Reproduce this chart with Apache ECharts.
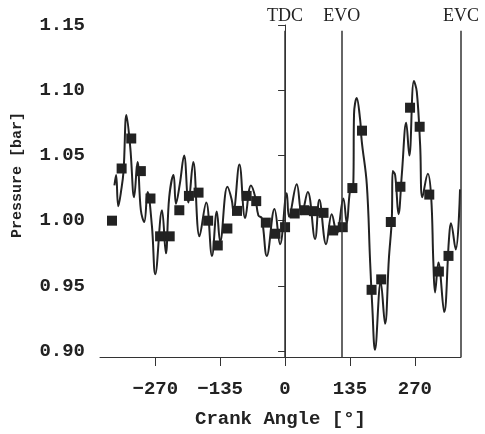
<!DOCTYPE html>
<html>
<head>
<meta charset="utf-8">
<script src="https://cdn.jsdelivr.net/npm/echarts@6/dist/echarts.min.js"></script>
<style>
html, body { margin: 0; padding: 0; background: #fff; }
#chart { width: 485px; height: 434px; }
</style>
</head>
<body>
<div id="chart"></div>
<script>
// pressure trace (continuous curve)
var curveAngle = [-355, -351.5, -347, -341, -336, -330, -322, -314, -307, -300, -293, -286, -277, -270,
    -256, -248, -241, -232, -227, -219, -210, -201, -191, -178, -164, -152, -142, -135, -120, -111,
    -107.5, -95, -83, -71, -62, -55.5, -48.5, -38, -22, -10.4, 3.5, 8.3, 24.3, 34.7, 47.2, 62.4,
    71.3, 85.3, 97.1, 107.5, 121.3, 128.3, 135.2, 142, 143.5, 149, 156, 159.5, 170, 177, 181.6,
    187, 199, 208, 216, 222, 224, 229, 236, 243, 252, 258.5, 268, 274, 281, 285.6, 297, 304,
    308.5, 312, 319, 331, 341, 345, 355, 364];
var curvePressure = [1.027, 1.035, 1.011, 1.023, 1.038, 1.081, 1.056, 1.018, 1.045, 1.008, 0.999, 1.022, 0.996, 0.959,
    1.008, 0.975, 1.018, 1.035, 1.013, 1.028, 1.050, 1.014, 1.045, 0.988, 1.014, 0.973, 1.007, 0.984, 1.026, 1.016,
    1.007, 1.043, 1.002, 1.027, 1.018, 1.004, 1.002, 0.973, 1.009, 0.982, 1.021, 1.003, 1.028, 1.005, 1.022, 0.986,
    1.016, 0.982, 1.005, 0.990, 1.017, 0.998, 1.023, 1.028, 1.082, 1.094, 1.078, 1.061, 1.028, 0.968, 0.933,
    0.901, 0.953, 0.921, 0.971, 1.001, 1.038, 1.035, 1.005, 1.036, 1.075, 1.050, 1.107, 1.099, 1.058, 1.018, 1.036, 1.018,
    0.968, 0.945, 0.968, 0.930, 0.986, 0.998, 0.978, 1.024];

// square markers every 20 deg
var markerAngle = [-360, -340, -320, -300, -280, -260, -240, -220, -200, -180, -160, -140, -120, -100, -80, -60, -40, -20,
    0, 20, 40, 60, 80, 100, 120, 140, 160, 180, 200, 220, 240, 260, 280, 300, 320, 340];
var markerPressure = [1.000, 1.040, 1.063, 1.038, 1.017, 0.988, 0.988, 1.008, 1.019, 1.0215, 1.000, 0.981, 0.994, 1.0075, 1.019, 1.015, 0.9985, 0.990,
    0.995, 1.0055, 1.008, 1.0073, 1.006, 0.9925, 0.995, 1.025, 1.069, 0.947, 0.955, 0.999, 1.026, 1.0866, 1.072, 1.020, 0.961, 0.973];

var eventNames = ['TDC', 'EVO', 'EVC'];
var eventAngles = [0, 118, 366];

var xTicks = [-270, -135, 0, 135, 270];
var yTicks = [0.90, 0.95, 1.00, 1.05, 1.10, 1.15];

var curveData = [];
for (var i = 0; i < curveAngle.length; i++) {
    curveData.push([curveAngle[i], curvePressure[i]]);
}
var markerData = [];
for (var i = 0; i < markerAngle.length; i++) {
    markerData.push([markerAngle[i], markerPressure[i]]);
}
var eventLines = [];
for (var i = 0; i < eventNames.length; i++) {
    eventLines.push([
        { name: eventNames[i], coord: [eventAngles[i], 1.1455] },
        { coord: [eventAngles[i], 0.8955] }
    ]);
}

var myChart = echarts.init(document.getElementById('chart'));
var monoFont = '"Liberation Mono", "DejaVu Sans Mono", monospace';
var option = {
    animation: false,
    grid: { left: 100, top: 25, right: 24, bottom: 72 },
    graphic: [{
        type: 'text',
        x: 17,
        y: 175,
        rotation: Math.PI / 2,
        style: {
            text: 'Pressure [bar]',
            align: 'center',
            verticalAlign: 'middle',
            fontFamily: monoFont,
            fontSize: 15,
            fontWeight: 'bold',
            fill: '#222'
        }
    }],
    xAxis: {
        type: 'value',
        min: -385,
        max: 366,
        name: 'Crank Angle [°]',
        nameLocation: 'middle',
        nameGap: 53,
        nameTextStyle: { fontFamily: monoFont, fontSize: 19, fontWeight: 'bold', color: '#222' },
        axisLine: { lineStyle: { color: '#333', width: 1 } },
        axisTick: { show: true, inside: false, length: 9, customValues: xTicks, lineStyle: { color: '#333' } },
        axisLabel: { customValues: xTicks, fontFamily: monoFont, fontSize: 19, fontWeight: 'bold', color: '#222', margin: 23,
            formatter: function (v) { return v < 0 ? '\u2212' + Math.abs(v) : '' + v; } },
        splitLine: { show: false }
    },
    yAxis: {
        type: 'value',
        min: 0.8955,
        max: 1.15,
        axisLine: { show: true, lineStyle: { color: '#333', width: 1 } },
        axisTick: { show: true, inside: false, length: 7, customValues: yTicks, lineStyle: { color: '#333' } },
        axisLabel: { customValues: yTicks, fontFamily: monoFont, fontSize: 19, fontWeight: 'bold', color: '#222', margin: 15,
            formatter: function (v) { return v.toFixed(2); } },
        splitLine: { show: false }
    },
    series: [
        {
            type: 'line',
            data: curveData,
            smooth: 0.4,
            symbol: 'none',
            lineStyle: { color: '#222', width: 2 },
            markLine: {
                silent: true,
                symbol: 'none',
                lineStyle: { color: '#333', width: 1.5, type: 'solid' },
                label: {
                    show: true,
                    position: 'start',
                    distance: 6,
                    formatter: '{b}',
                    fontFamily: '"Liberation Serif", "DejaVu Serif", serif',
                    fontSize: 18,
                    color: '#222'
                },
                data: eventLines
            }
        },
        {
            type: 'scatter',
            data: markerData,
            symbol: 'rect',
            symbolSize: 10,
            itemStyle: { color: '#222', opacity: 1 }
        }
    ]
};
myChart.setOption(option);
</script>
</body>
</html>
